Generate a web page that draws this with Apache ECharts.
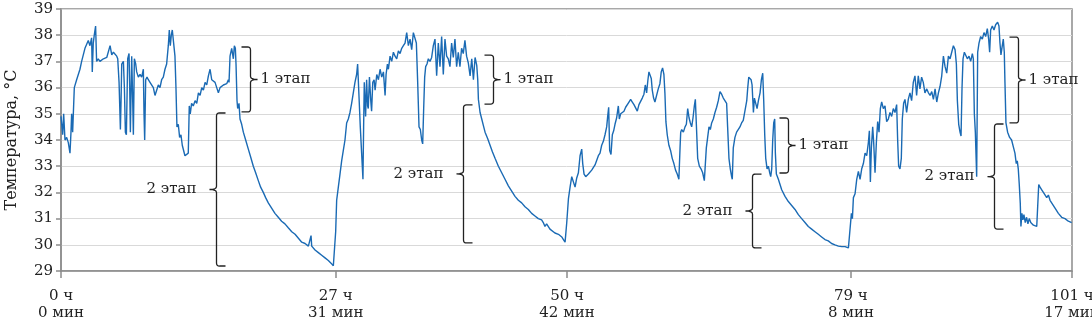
<!DOCTYPE html>
<html><head><meta charset="utf-8">
<script src="https://cdn.jsdelivr.net/npm/echarts@6/dist/echarts.min.js"></script>
<style>html,body{margin:0;padding:0;background:#fff}#c{width:1092px;height:322px}</style>
</head><body><div id="c"></div>
<script>
// time since start, minutes
const timeMin = [0,10,16,24,34,44,54,60,64,70,80,94,114,124,144,164,174,184,188,194,200,208,214,224,234,244,255,265,275,285,295,305,315,325,335,341,349,357,361,365,375,381,387,393,401,409,413,417,421,425,431,435,441,449,455,465,475,485,495,499,503,509,517,525,535,545,555,565,575,585,595,605,615,625,635,645,651,657,663,669,677,685,691,697,705,713,721,729,737,745,755,765,771,777,785,795,806,816,826,836,846,856,866,876,886,896,906,916,926,936,946,956,966,976,986,996,1006,
1010,1016,1026,1036,1042,1048,1052,1058,1062,1070,1076,1086,1096,1110,1126,1140,1156,1170,1186,1200,1216,1230,1246,1266,1286,1306,1326,1346,1366,1387,1407,1427,1447,1467,1487,1499,1503,1507,1527,1547,1567,1587,1607,1623,1637,1643,1651,1657,1667,1677,1687,1697,1707,1717,1727,1737,1747,1757,1767,1777,1783,1791,1799,1807,1815,1819,1823,1831,1837,1843,1847,1854,1862,1867,1874,1882,1888,1898,1908,1918,1928,1938,1948,1954,1962,1968,1978,1988,1998,2008,2018,2028,2038,2048,2058,2068,
2078,2088,2098,2108,2118,2128,2136,2144,2152,2160,2168,2174,2180,2186,2192,2200,2208,2218,2228,2238,2248,2258,2268,2278,2288,2298,2308,2318,2328,2338,2348,2358,2368,2378,2388,2398,2408,2418,2428,2438,2448,2459,2469,2479,2489,2499,2505,2509,2519,2529,2539,2549,2565,2579,2593,2609,2629,2649,2669,2689,2709,2729,2749,2769,2789,2809,2829,2849,2869,2889,2899,2909,2919,2929,2939,2949,2969,2990,3010,3020,3030,3040,3050,3060,3070,
3080,3090,3100,3110,3120,3130,3136,3144,3154,3170,3180,3190,3200,3210,3220,3230,3240,3250,3260,3270,3280,3286,3292,3298,3306,3314,3322,3330,3340,3350,3356,3364,3374,3384,3394,3404,3414,3424,3434,3444,3454,3464,3474,3484,3494,3504,3512,3520,3528,3534,3542,3548,3554,3562,3570,3580,3590,3600,3608,3616,3624,3630,3636,3644,3654,3664,3674,3684,3694,3704,3714,3721,3725,3731,3741,3751,3759,3767,3775,3783,3791,3799,3807,3813,3819,3827,3837,3847,3857,3867,3873,3879,3887,3895,3903,3911,3921,3931,3941,3951,3961,3971,3981,3991,4001,4007,4015,4023,4031,4035,4041,4051,4061,4071,4081,4091,4101,4111,
4122,4128,4134,4142,4148,4154,4162,4168,4176,4184,4192,4202,4210,4218,4224,4230,4236,4244,4252,4260,4266,4272,4278,4284,4290,4294,4300,4312,4322,4332,4352,4372,4392,4412,4432,4452,4472,4492,4512,4532,4552,4572,4592,4612,4632,4652,4673,4693,4713,4733,4745,4751,4757,4763,4773,4783,4793,4803,4813,4823,4833,4843,4853,4859,4865,4871,4879,4885,4893,4901,4909,4917,4925,4933,4943,4953,4963,4973,4983,4993,5003,5013,5023,5029,5035,5043,5051,5057,5065,5073,5083,5093,5103,5113,5123,5133,
5143,5153,5163,5173,5183,5193,5204,5214,5224,5234,5244,5254,5264,5274,5284,5294,5304,5314,5324,5334,5344,5354,5364,5374,5382,5388,5396,5404,5410,5416,5422,5430,5438,5448,5458,5468,5478,5484,5490,5496,5504,5510,5518,5528,5538,5548,5558,5568,5576,5582,5588,5598,5608,5618,5630,5638,5644,5650,5658,5664,5670,5674,5680,5690,5702,5714,5726,5734,5742,5748,5754,5760,5766,5770,5776,5782,5788,5796,5804,5812,5820,5829,5837,5845,5855,5865,5871,5877,5885,5895,5905,5915,5925,5935,5945,5955,5975,5995,6015,6035,6055,6075];
// temperature, °C
const tempC = [34.9,34.2,35.0,34.0,34.1,33.9,33.5,34.3,35.0,34.3,36.0,36.3,36.7,37.0,37.5,37.8,37.6,37.9,36.6,37.7,38.0,38.35,37.0,37.1,37.0,37.0,37.1,37.1,37.15,37.2,37.6,37.25,37.35,37.3,37.2,37.1,36.2,34.4,35.5,36.9,37.0,36.0,34.3,34.2,37.1,37.3,36.0,34.3,35.8,37.2,35.5,34.2,37.1,36.9,36.6,36.4,36.5,36.4,36.7,35.0,34.0,36.3,36.4,36.3,36.2,36.2,36.0,35.7,35.9,36.1,36.0,36.3,36.4,36.7,36.9,37.6,38.2,37.6,38.0,38.2,37.7,37.2,36.0,34.5,34.6,34.1,34.2,33.8,33.6,33.4,33.4,33.5,35.3,35.0,35.4,35.3,35.5,35.4,35.8,35.7,36.0,35.9,36.2,36.1,36.45,36.7,36.3,36.35,36.2,36.0,35.8,36.0,35.95,36.1,36.1,36.15,36.3,
36.2,37.2,37.5,37.1,37.6,37.5,36.9,35.5,35.2,35.4,34.8,34.6,34.3,34.0,33.65,33.35,33.0,32.75,32.45,32.2,32.0,31.8,31.6,31.4,31.2,31.05,30.9,30.8,30.65,30.5,30.4,30.25,30.1,30.05,29.95,30.0,30.35,29.95,29.8,29.7,29.6,29.5,29.4,29.3,29.2,29.15,30.5,31.7,32.2,32.7,33.2,33.6,34.0,34.65,34.8,35.05,35.4,35.8,36.2,36.5,36.9,35.7,34.5,33.5,32.5,34.5,36.2,34.9,36.3,35.3,35.2,36.4,35.5,35.1,36.2,36.3,35.9,36.5,36.3,36.7,36.4,36.6,35.7,36.5,36.9,36.7,37.2,37.0,37.35,37.2,37.1,37.4,37.3,37.5,37.6,37.7,
38.1,37.6,37.85,37.45,38.1,38.15,37.7,36.2,34.5,34.4,34.0,33.85,35.2,36.4,36.8,36.9,37.1,37.0,37.15,37.6,37.85,36.45,37.7,36.8,37.95,36.5,37.85,37.2,37.1,36.8,37.7,37.15,37.85,36.8,37.35,36.8,37.5,37.3,37.8,37.2,36.95,36.45,37.1,36.3,37.15,36.85,36.3,35.55,35.05,34.8,34.55,34.3,34.05,33.8,33.55,33.3,33.0,32.75,32.5,32.25,32.05,31.85,31.7,31.6,31.45,31.35,31.2,31.1,31.0,30.95,30.85,30.7,30.8,30.75,30.6,30.65,30.45,30.4,30.3,30.2,30.1,30.85,31.75,32.2,32.6,
32.6,32.2,32.55,32.75,33.4,33.65,33.1,32.7,32.6,32.7,32.65,32.85,32.8,33.05,33.1,33.4,33.5,33.8,33.95,34.2,34.5,34.9,35.25,33.6,33.45,34.2,34.35,34.6,34.85,35.3,34.8,35.0,35.05,35.1,35.25,35.2,35.45,35.55,35.45,35.35,35.3,35.1,35.35,35.4,35.6,35.75,36.1,35.8,36.3,36.6,36.65,36.35,35.9,35.6,35.45,35.5,35.95,36.15,36.6,36.75,36.5,35.8,34.7,34.2,33.8,33.6,33.3,33.1,32.85,32.7,32.5,33.7,34.3,34.4,34.3,34.5,34.6,35.2,34.85,34.65,34.5,34.85,35.3,35.55,34.6,33.3,33.0,32.9,32.75,32.45,32.5,33.7,34.1,34.5,34.4,34.65,34.8,35.05,35.25,35.5,35.85,35.75,35.6,35.55,35.4,34.5,33.3,32.9,32.6,32.5,33.7,34.1,34.3,34.35,34.5,34.65,34.75,34.8,
35.5,36.0,36.4,36.45,36.3,36.1,35.05,35.6,35.4,35.2,35.5,35.8,36.3,36.55,35.5,34.2,33.3,32.9,33.0,32.75,32.6,32.9,34.0,34.65,34.8,33.5,32.7,32.5,32.3,32.1,31.85,31.65,31.5,31.35,31.15,31.0,30.85,30.7,30.6,30.5,30.4,30.3,30.2,30.15,30.05,30.0,29.95,29.93,29.93,29.88,29.85,31.2,31.0,31.8,31.95,32.5,32.8,32.5,32.9,33.1,33.5,33.4,33.9,34.35,32.4,33.7,34.5,33.9,32.75,33.9,34.7,34.3,35.2,35.45,35.2,35.3,34.7,34.8,35.05,34.9,35.2,35.05,35.35,34.0,33.0,32.9,33.3,34.8,35.4,35.55,35.05,35.55,35.8,35.5,36.2,36.45,
35.7,36.45,35.95,36.4,36.2,35.8,35.95,35.8,35.7,35.85,35.55,35.95,35.45,35.8,36.05,36.45,37.2,36.8,36.55,37.2,37.1,37.35,37.6,37.45,36.9,35.5,34.6,34.3,34.15,36.0,37.1,37.35,37.4,37.1,37.2,37.0,37.3,37.1,35.0,34.3,32.6,37.35,37.7,37.95,37.85,38.1,37.95,38.25,37.85,37.35,38.2,38.35,38.2,38.4,38.5,38.35,37.7,37.25,37.6,37.85,37.35,36.2,34.65,34.3,34.1,34.0,33.7,33.5,33.1,33.2,32.9,32.3,31.6,30.7,31.2,30.95,31.15,30.85,31.05,30.8,31.0,30.85,30.9,30.75,30.75,30.7,31.5,32.3,32.2,32.1,32.0,31.95,31.8,31.9,31.7,31.65,31.4,31.2,31.05,31.0,30.9,30.85];

const xTickValues = [0, 1651, 3042, 4748, 6077];
const xTickLabels = ['0 ч\n0 мин', '27 ч\n31 мин', '50 ч\n42 мин', '79 ч\n8 мин', '101 ч\n17 мин'];
const yAxisTitle = 'Температура, °C';

// annotation braces: time, top temp, bottom temp, side of tip, label
const braceTimes = [1136, 932, 2597, 2416, 4370, 4154, 5752, 5608];
const braceTops = [37.55, 35.03, 37.24, 35.34, 34.84, 32.70, 37.93, 34.61];
const braceBottoms = [35.07, 29.19, 35.37, 30.07, 32.74, 29.88, 34.65, 30.60];
const braceSides = ['right', 'left', 'right', 'left', 'right', 'left', 'right', 'left'];
const braceLabels = ['1 этап', '2 этап', '1 этап', '2 этап', '1 этап', '2 этап', '1 этап', '2 этап'];

const FONT = '"DejaVu Serif", "Liberation Serif", serif';
const series = timeMin.map((t, i) => [t, tempC[i]]);

const chart = echarts.init(document.getElementById('c'), null, {renderer: 'canvas'});
chart.setOption({
  animation: false,
  backgroundColor: '#fff',
  grid: {left: 61, right: 20, top: 9, bottom: 51, show: true, borderColor: '#8c8c8c', borderWidth: 1.5,
    backgroundColor: 'transparent', containLabel: false, outerBoundsMode: 'none'},
  xAxis: {
    type: 'value', min: 0, max: 6077,
    axisLine: {show: true, lineStyle: {color: '#8c8c8c', width: 1.5}},
    axisTick: {show: true, customValues: xTickValues, length: 7, lineStyle: {color: '#8c8c8c', width: 1.5}},
    splitLine: {show: false},
    axisLabel: {
      customValues: xTickValues, margin: 17, color: '#222', fontFamily: FONT, fontSize: 15, lineHeight: 17,
      showMinLabel: true, showMaxLabel: true, hideOverlap: false,
      formatter: v => { const i = xTickValues.indexOf(v); return i >= 0 ? xTickLabels[i] : ''; }
    }
  },
  yAxis: {
    type: 'value', min: 29, max: 39, interval: 1,
    name: yAxisTitle, nameLocation: 'middle', nameGap: 41, nameRotate: 90,
    nameTextStyle: {fontFamily: FONT, fontSize: 16, color: '#222'},
    axisLine: {show: true, lineStyle: {color: '#8c8c8c', width: 1.5}},
    axisTick: {show: true, length: 5, lineStyle: {color: '#8c8c8c', width: 1.5}},
    splitLine: {show: true, lineStyle: {color: '#d9d9d9', width: 1}},
    axisLabel: {margin: 8, color: '#222', fontFamily: FONT, fontSize: 15}
  },
  series: [{
    type: 'line', data: series, showSymbol: false, symbol: 'none',
    lineStyle: {color: '#1a6ab4', width: 1.4}, z: 3
  }]
});

// sample a quadratic bezier into points
function quad(p0, c, p1, n) {
  const pts = [];
  for (let k = 1; k <= n; k++) {
    const s = k / n, u = 1 - s;
    pts.push([u * u * p0[0] + 2 * u * s * c[0] + s * s * p1[0], u * u * p0[1] + 2 * u * s * c[1] + s * s * p1[1]]);
  }
  return pts;
}
function bracePoints(xv, yt, yb, side) {
  const hook = 9, tip = 7, r = 3;
  const ym = (yt + yb) / 2;
  const s = side === 'right' ? 1 : -1;
  let pts = [[xv - s * hook, yt], [xv - s * r, yt]];
  pts = pts.concat(quad([xv - s * r, yt], [xv, yt], [xv, yt + r], 4));
  pts.push([xv, ym - r]);
  pts = pts.concat(quad([xv, ym - r], [xv, ym], [xv + s * tip, ym], 4));
  pts = pts.concat(quad([xv + s * tip, ym], [xv, ym], [xv, ym + r], 4));
  pts.push([xv, yb - r]);
  pts = pts.concat(quad([xv, yb - r], [xv, yb], [xv - s * r, yb], 4));
  pts.push([xv - s * hook, yb]);
  return pts;
}

const graphics = [];
braceTimes.forEach((t, i) => {
  const pt = chart.convertToPixel({gridIndex: 0}, [t, braceTops[i]]);
  const pb = chart.convertToPixel({gridIndex: 0}, [t, braceBottoms[i]]);
  const xv = Math.round(pt[0]) + 0.5;
  const side = braceSides[i];
  graphics.push({
    type: 'polyline', silent: true, z: 10,
    shape: {points: bracePoints(xv, pt[1], pb[1], side)},
    style: {fill: null, stroke: '#222', lineWidth: 1.3}
  });
  const ym = (pt[1] + pb[1]) / 2;
  graphics.push({
    type: 'text', silent: true, z: 10,
    x: side === 'right' ? xv + 10 : xv - 20,
    y: ym,
    style: {text: braceLabels[i], font: '15px ' + FONT, fill: '#222',
      align: side === 'right' ? 'left' : 'right', verticalAlign: 'middle'}
  });
});
chart.setOption({graphic: graphics});
</script>
</body></html>
